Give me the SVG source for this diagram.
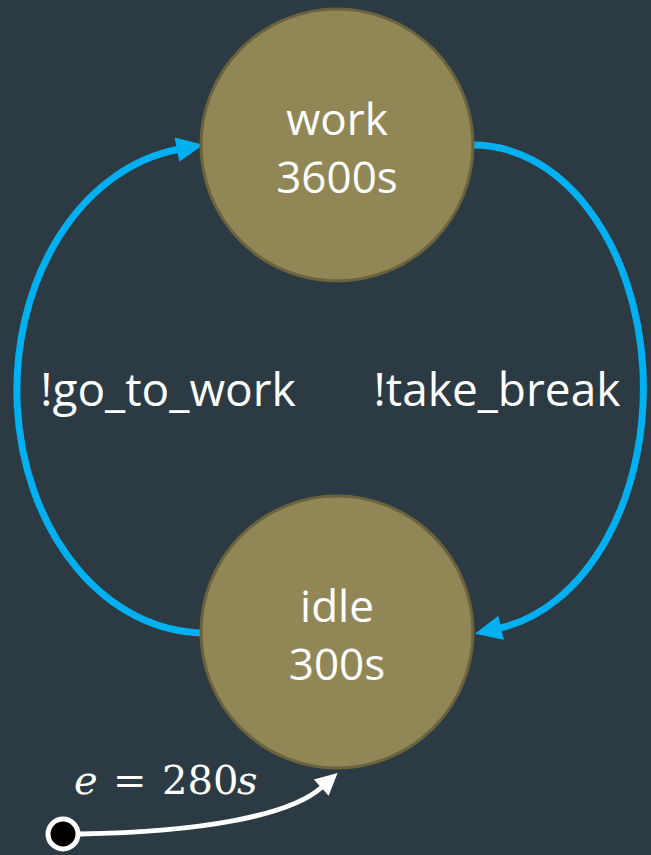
<svg xmlns="http://www.w3.org/2000/svg" width="651" height="855" viewBox="0 0 651 855">
  <style>
    .node circle { fill: #918756; stroke: #6A633E; stroke-width: 3; }
    .ntext { font-family: "Open Sans", "Noto Sans", sans-serif; font-size: 44px; fill: #FFFFFF; text-anchor: middle; }
    .label { font-family: "Open Sans", "Noto Sans", sans-serif; font-size: 46px; fill: #FFFFFF; text-anchor: middle; }
    .edge { fill: none; stroke: #00B0F0; stroke-width: 7; stroke-linecap: round; }
    .init { fill: none; stroke: #FFFFFF; stroke-width: 5; stroke-linecap: round; }
    .math { font-family: "DejaVu Serif", "Liberation Serif", serif; font-size: 40px; fill: #FFFFFF; }
  </style>
  <defs>
    <marker id="arrBlue" markerUnits="userSpaceOnUse" markerWidth="30" markerHeight="30" viewBox="-2 -13 28 26" refX="0" refY="0" orient="auto">
      <path d="M-1,-11.5 L24,0 L-1,11.5 Z" fill="#00B0F0"/>
    </marker>
    <marker id="arrWhite" markerUnits="userSpaceOnUse" markerWidth="26" markerHeight="26" viewBox="-2 -12 26 24" refX="0" refY="0" orient="auto">
      <path d="M-1,-11 L21,0 L-1,11 Z" fill="#FFFFFF"/>
    </marker>
  </defs>
  <rect x="0" y="0" width="651" height="855" fill="#2C3B43"/>

  <g id="connectors">
    <path id="e-go-to-work" class="edge" d="M 204 633 A 188 243 0 0 1 178 149.5" marker-end="url(#arrBlue)"/>
    <path id="e-take-break" class="edge" d="M 472 145 A 170 243 0 0 1 500 628" marker-end="url(#arrBlue)"/>
    <path id="e-init" class="init" d="M 80 834 C 200 832, 290 816, 322 787" marker-end="url(#arrWhite)"/>
  </g>

  <g id="node-work" class="node">
    <circle cx="337" cy="145" r="136"/>
    <text class="ntext" x="337" y="135">work</text>
    <text class="ntext" x="337" y="193">3600s</text>
  </g>

  <g id="node-idle" class="node">
    <circle cx="337" cy="632" r="136"/>
    <text class="ntext" x="337" y="622">idle</text>
    <text class="ntext" x="337" y="680">300s</text>
  </g>

  <g id="node-init">
    <circle cx="63" cy="834" r="15" fill="#000000" stroke="#FFFFFF" stroke-width="5"/>
  </g>

  <g id="labels">
    <text class="label" x="168" y="406">!go_to_work</text>
    <text class="label" x="497" y="406">!take_break</text>
    <text class="math" y="794"><tspan x="74" font-style="italic">e</tspan><tspan x="113">=</tspan><tspan x="162">280</tspan><tspan x="237" font-style="italic">s</tspan></text>
  </g>
</svg>
